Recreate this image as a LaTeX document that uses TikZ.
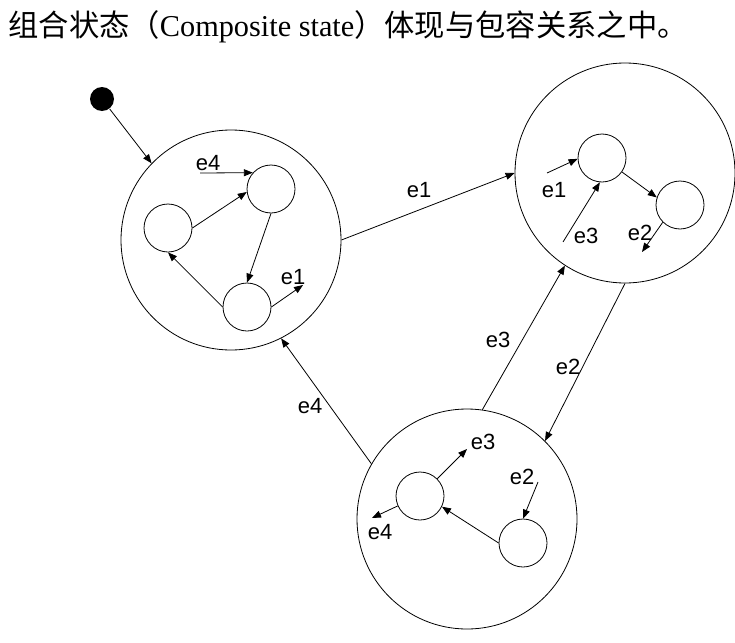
\documentclass[tikz,border=0pt]{standalone}
\usepackage{fontspec}
\setmainfont{Liberation Serif}
\setsansfont{Liberation Sans}
\newfontfamily\cjk{Noto Sans CJK SC}
\usetikzlibrary{arrows.meta}

\tikzset{
  big/.style={draw, circle, minimum size=220pt, inner sep=0pt},
  sub/.style={draw, circle, minimum size=48pt, inner sep=0pt},
  lbl/.style={inner sep=0pt, font=\sffamily\fontsize{22}{26}\selectfont},
}

\begin{document}
\begin{tikzpicture}[x=1pt, y=-1pt, line width=0.8pt, >={Triangle[length=9pt,width=7pt]}]

\useasboundingbox (0,0) rectangle (735,642);

%title
\node[anchor=west, inner sep=0pt, font=\fontsize{30.3}{36}\selectfont] (t) at (8,27)
  {{\cjk 组合状态（}Composite state{\cjk ）体现与包容关系之中。}};

%initial state
\node[circle, fill=black, minimum size=24pt, inner sep=0pt] (init) at (102,99) {};

%outer states
\node[big] (L) at (231,240) {};
\node[big] (R) at (625,173) {};
\node[big] (B) at (467,519) {};
%
\node[sub] (l1) at (168,228) {};
\node[sub] (l2) at (271,189) {};
\node[sub] (l3) at (247,307) {};
%
\node[sub] (r1) at (602,158) {};
\node[sub] (r2) at (680,205) {};
%
\node[sub] (b1) at (420,496) {};
\node[sub] (b2) at (523,543) {};

%free ends
\coordinate (l4) at (200,173);
\coordinate (l5) at (303,285);
\coordinate (r3) at (547,173);
\coordinate (r4) at (563,242);
\coordinate (r5) at (642,252);
\coordinate (b3) at (467,449);
\coordinate (b4) at (372,518);
\coordinate (b5) at (538,482);

%outer transitions
\draw[->] (init) -- (L.136);
\draw[->] (L.east) -- (R.west);   %e1
\draw[->] (B.82)   -- (R.237);    %e3
\draw[->] (R.270)  -- (B.45);     %e2
\draw[->] (B.150)  -- (L.297);    %e4

%inner transitions
\draw[->] (l1.east)  -- (l2.187);
\draw[->] (l2.south) -- (l3.north);
\draw[->] (l3.west)  -- (l1.south);
\draw[->] (l4)       -- (l2.138);
\draw[->] (l3.east)  -- (l5);
%
\draw[->] (r3)       -- (r1.182);
\draw[->] (r4)       -- (r1.265);
\draw[->] (r1.-35)   -- (r2.162);
\draw[->] (r2.225)   -- (r5);
%
\draw[->] (b2.west)  -- (b1.334);
\draw[->] (b1.45)    -- (b3);
\draw[->] (b1.204)   -- (b4);
\draw[->] (b5)       -- (b2.north);

%labels
\node[lbl] (e1) at (419,190) {e1};
\node[lbl] (e3) at (498,340) {e3};
\node[lbl] (e2) at (568,367) {e2};
\node[lbl] (e4) at (310,406) {e4};
%
\node[lbl] (le4) at (208,163) {e4};
\node[lbl] (le1) at (293,277) {e1};
\node[lbl] (re1) at (554,190) {e1};
\node[lbl] (re3) at (586,236) {e3};
\node[lbl] (re2) at (640,233) {e2};
\node[lbl] (be3) at (483,442) {e3};
\node[lbl] (be4) at (380,532) {e4};
\node[lbl] (be2) at (522,477) {e2};

\end{tikzpicture}
\end{document}
